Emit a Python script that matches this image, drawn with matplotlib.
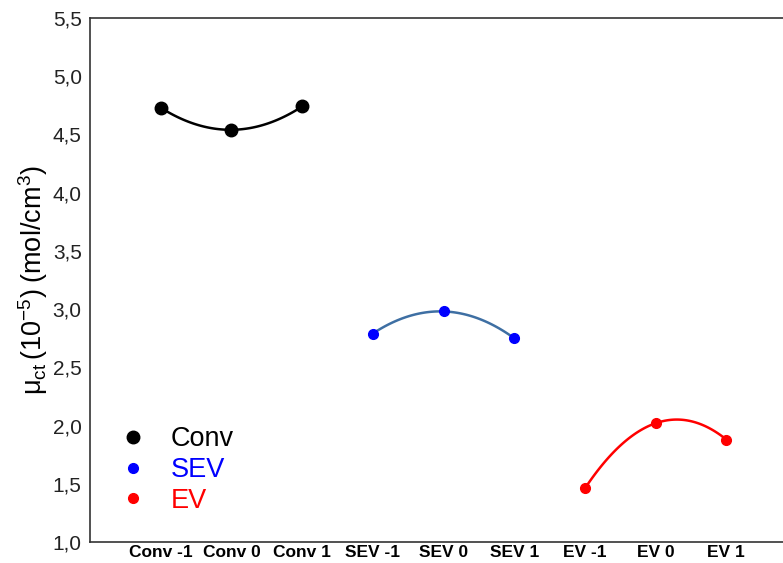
import numpy as np
import matplotlib.pyplot as plt

plt.rcParams['font.family'] = ['Liberation Sans', 'DejaVu Sans']
plt.rcParams['mathtext.fontset'] = 'custom'
plt.rcParams['mathtext.rm'] = 'Liberation Sans'
plt.rcParams['mathtext.it'] = 'Liberation Sans:italic'

labels = ['Conv -1', 'Conv 0', 'Conv 1', 'SEV -1', 'SEV 0', 'SEV 1',
          'EV -1', 'EV 0', 'EV 1']
conv = [4.73, 4.54, 4.74]
sev = [2.79, 2.98, 2.75]
ev = [1.46, 2.02, 1.88]

groups = [
    ('Conv', conv, 'black', 'black', 9),
    ('SEV', sev, 'blue', '#3e6fa3', 7),
    ('EV', ev, 'red', 'red', 7),
]

fig = plt.figure(figsize=(7.83, 5.63), dpi=100)
ax = fig.add_axes([90 / 783, 21 / 563, 707 / 783, 524 / 563])

handles = []
for i, (name, vals, c, lc, ms) in enumerate(groups):
    xs = np.arange(3) + 1 + 3 * i
    coef = np.polyfit(xs, vals, 2)
    xf = np.linspace(xs[0], xs[-1], 100)
    ax.plot(xf, np.polyval(coef, xf), color=lc, lw=1.8, zorder=2)
    h, = ax.plot(xs, vals, 'o', color=c, ms=ms, zorder=3, label=name)
    handles.append(h)

ax.set_xlim(0, 10)
ax.set_ylim(1.0, 5.5)
ax.set_xticks(np.arange(1, 10))
ax.set_xticklabels(labels, fontsize=12.5, fontweight='bold')
yt = np.arange(1.0, 5.51, 0.5)
ax.set_yticks(yt)
ax.set_yticklabels([f'{v:.1f}'.replace('.', ',') for v in yt], fontsize=15,
                   color='#222222')
ax.tick_params(length=0)
ax.tick_params(axis='x', pad=2)
ax.tick_params(axis='y', pad=6)
for s in ax.spines.values():
    s.set_linewidth(1.2)
    s.set_color('#333333')

ax.set_ylabel(r'$\mathregular{\mu_{ct}\,(10^{-5})\;(mol/cm^3)}$', fontsize=19.5,
              labelpad=2)

leg = ax.legend(handles=handles, loc='lower left', bbox_to_anchor=(0.007, 0.007),
                frameon=False, fontsize=19.5, handletextpad=0.9,
                labelspacing=0.18, handlelength=1.0)
for t, (_, _, c, _, _) in zip(leg.get_texts(), groups):
    t.set_color(c)

fig.savefig('out.png', dpi=100)
